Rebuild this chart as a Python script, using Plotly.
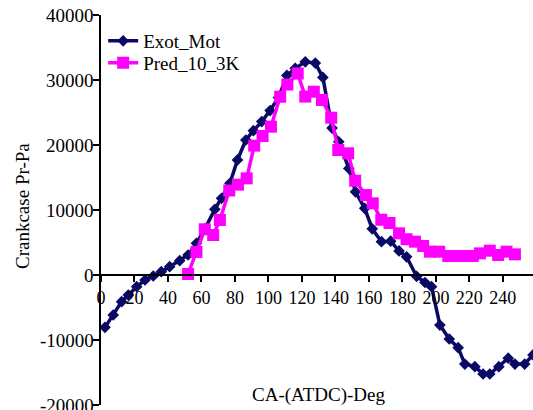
import plotly.graph_objects as go

exot_x = [2.4, 7.3, 12.3, 16.3, 21.3, 26.3, 31.2, 36, 41, 47, 52, 57, 62, 68, 72, 77, 81.5,
          86.5, 91, 96, 101, 106, 111, 116, 122, 128, 132.5, 138, 142, 148, 152, 157.5, 162,
          167.5, 173, 178, 182.5, 188.5, 193.5, 197.4, 202.4, 208, 213.3, 217.3, 223.3,
          228.2, 232.2, 237.6, 243.2, 247.2, 253, 258]
exot_y = [-8050, -6150, -4100, -3080, -1800, -770, -150, 510, 1280, 2200, 3080, 4870, 7100,
          10100, 11800, 14100, 17700, 20770, 22200, 23600, 25300, 27300, 30700, 31800, 32800,
          32600, 30400, 22600, 20500, 16400, 12800, 10260, 7100, 5130, 5200, 3700, 2800, -200,
          -1150, -1800, -7700, -9850, -11180, -13700, -14100, -15230, -15230, -14100, -12800,
          -13700, -13700, -12300]

pred_x = [52, 57, 62, 67, 71, 76.6, 81.8, 87, 91.5, 96.5, 101.5, 107, 111.3, 117.5, 122,
          127.1, 132, 137.5, 141.7, 147.6, 151.8, 158.2, 162.3, 167.4, 172.3, 178, 182.5,
          187.5, 192.4, 196.4, 202, 207.4, 212.4, 217.3, 222, 226.3, 232.2, 237.2, 242.2, 247.2]
pred_y = [150, 3550, 7030, 6150, 8460, 13000, 13900, 14870, 19900, 21380, 22820, 27430,
          29300, 31000, 27450, 28200, 26920, 24200, 19230, 18720, 14510, 12300, 11030, 8500,
          8000, 6410, 5500, 5130, 4460, 3590, 3590, 2920, 2920, 2920, 2920, 3330, 3740, 3080,
          3590, 3180]

x_ticks = [0, 20, 40, 60, 80, 100, 120, 140, 160, 180, 200, 220, 240]
y_ticks = [-20000, -10000, 0, 10000, 20000, 30000, 40000]
y_tick_text = ["-20000", "-10000", "0", "10000", "20000", "30000", "40000"]

FONT = "Liberation Serif"
NAVY = "#0a0a66"
MAGENTA = "#ff00ff"

W, H = 533, 410
L, R, T, B = 101, 0, 15, 5
PW, PH = W - L - R, H - T - B


def px_x(p):
    return (p - L) / PW


def px_y(p):
    return 1 - (p - T) / PH


fig = go.Figure()
fig.add_trace(go.Scatter(
    x=exot_x, y=exot_y, name="Exot_Mot", mode="lines+markers",
    line=dict(color=NAVY, width=3.5),
    marker=dict(symbol="diamond", size=9, color=NAVY),
    legend="legend",
))
fig.add_trace(go.Scatter(
    x=pred_x, y=pred_y, name="Pred_10_3K", mode="lines+markers",
    line=dict(color=MAGENTA, width=3.5),
    marker=dict(symbol="square", size=12, color=MAGENTA),
    legend="legend2",
))

legend_common = dict(xanchor="left", yanchor="top", bgcolor="rgba(0,0,0,0)",
                     font=dict(size=19, family=FONT, color="black"), itemwidth=30)

# y tick labels drawn as text (the lowest one sits at the bottom edge, half cut)
y_label_anns = [
    dict(text=t, x=px_x(96), y=v, xref="paper", yref="y", showarrow=False,
         xanchor="right", yanchor="middle", font=dict(size=19, family=FONT, color="black"))
    for v, t in zip(y_ticks, y_tick_text)
]

fig.update_layout(
    width=W, height=H,
    margin=dict(l=L, r=R, t=T, b=B),
    paper_bgcolor="white", plot_bgcolor="white",
    font=dict(family=FONT, size=19, color="black"),
    showlegend=True,
    legend=dict(x=0.005, y=px_y(22), **legend_common),
    legend2=dict(x=0.005, y=px_y(44), **legend_common),
    xaxis=dict(
        range=[0, 258], tickvals=x_ticks, showgrid=False, zeroline=False,
        showline=True, linecolor="black", linewidth=2,
        ticks="outside", ticklen=6, tickwidth=2, tickcolor="black",
        anchor="free", position=1/3,
        tickfont=dict(size=18, family=FONT, color="black"),
    ),
    yaxis=dict(
        range=[-20000, 40000], tickvals=y_ticks, showticklabels=False,
        showgrid=False, zeroline=False,
        showline=True, linecolor="black", linewidth=2,
        ticks="outside", ticklen=6, tickwidth=2, tickcolor="black",
    ),
    annotations=y_label_anns + [
        dict(text="Crankcase Pr-Pa", x=px_x(22), y=px_y(206), xref="paper", yref="paper",
             showarrow=False, textangle=-90, font=dict(size=19, family=FONT, color="black"),
             xanchor="center", yanchor="middle"),
        dict(text="CA-(ATDC)-Deg", x=px_x(318), y=px_y(395), xref="paper", yref="paper",
             showarrow=False, font=dict(size=19, family=FONT, color="black"),
             xanchor="center", yanchor="middle"),
    ],
)

fig.write_html("out.html", config={"displayModeBar": False},
               post_script="document.body.style.margin='0';")
